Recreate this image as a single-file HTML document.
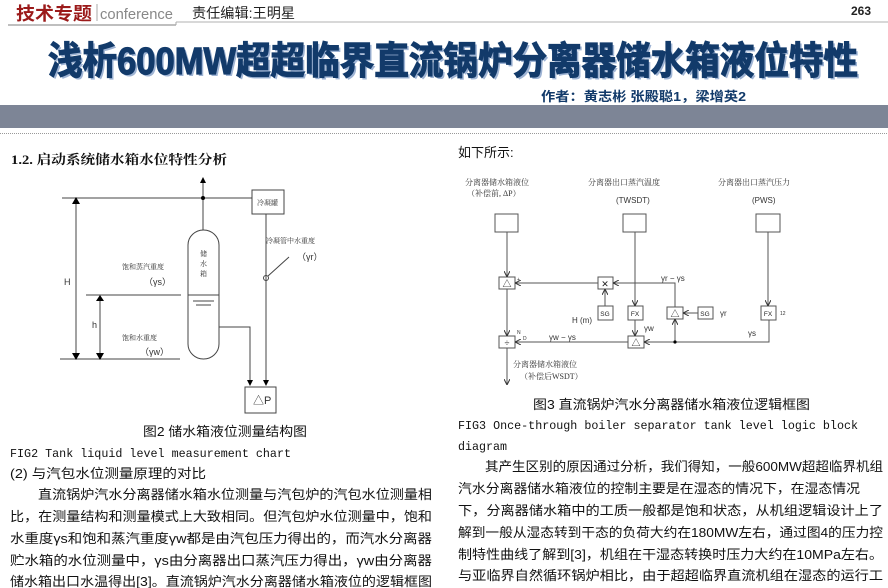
<!DOCTYPE html>
<html><head><meta charset="utf-8">
<style>
html,body{margin:0;padding:0;background:#fff;}
svg{display:block}
.c{font-family:"Liberation Serif","Noto Serif CJK SC","Noto Sans CJK SC",serif;}
.s{font-family:"Liberation Sans","Noto Sans CJK SC",sans-serif;}
.m{font-family:"Liberation Mono","Noto Sans CJK SC",monospace;}
</style></head><body>
<svg width="888" height="588" viewBox="0 0 888 588" xmlns="http://www.w3.org/2000/svg">
<defs>
<marker id="a" markerWidth="6" markerHeight="6" refX="5" refY="3" orient="auto" markerUnits="userSpaceOnUse"><path d="M0,0 L6,3 L0,6 z" fill="#000"/></marker>
<marker id="b" markerWidth="6" markerHeight="6" refX="5" refY="3" orient="auto" markerUnits="userSpaceOnUse"><path d="M0,0 L6,3 L0,6" fill="none" stroke="#333" stroke-width="1"/></marker>
</defs>
<!-- header -->
<text x="16" y="20" class="s" font-size="18" font-weight="bold" fill="#9b1a1a" textLength="76" lengthAdjust="spacingAndGlyphs">技术专题</text>
<line x1="97" y1="4" x2="97" y2="21" stroke="#aaa"/>
<text x="100" y="19" class="s" font-size="15" fill="#888" textLength="73" lengthAdjust="spacingAndGlyphs">conference</text>
<text x="192" y="18" class="s" font-size="14" fill="#222" textLength="103" lengthAdjust="spacingAndGlyphs">责任编辑:王明星</text>
<text x="851" y="15" class="s" font-size="12" font-weight="bold" fill="#222">263</text>
<line x1="8" y1="25" x2="176" y2="25" stroke="#aaa" stroke-width="1.5"/>
<line x1="176" y1="22" x2="888" y2="22" stroke="#ccc" stroke-width="1.5"/>
<line x1="176" y1="22" x2="176" y2="25" stroke="#aaa"/>
<!-- title -->
<text x="50" y="76" class="s" font-size="38" font-weight="bold" fill="#9fb4d4" textLength="810" lengthAdjust="spacingAndGlyphs">浅析600MW超超临界直流锅炉分离器储水箱液位特性</text>
<text x="48" y="74" class="s" font-size="38" font-weight="bold" fill="#123a6a" stroke="#123a6a" stroke-width="1.2" textLength="810" lengthAdjust="spacingAndGlyphs">浅析600MW超超临界直流锅炉分离器储水箱液位特性</text>
<text x="541" y="101" class="s" font-size="13" font-weight="bold" fill="#123a6a" textLength="205" lengthAdjust="spacingAndGlyphs">作者：黄志彬 张殿聪1，梁增英2</text>
<rect x="0" y="105" width="888" height="23" fill="#7d8596"/>
<line x1="0" y1="133.5" x2="888" y2="133.5" stroke="#999" stroke-dasharray="1,1"/>
<!-- section heading -->
<text x="11" y="164" class="c" font-size="13" font-weight="bold" fill="#111" textLength="216" lengthAdjust="spacingAndGlyphs">1.2. 启动系统储水箱水位特性分析</text>
<text x="458" y="157" class="s" font-size="13" fill="#111">如下所示:</text>

<!-- left diagram -->
<g stroke="#444" stroke-width="1" fill="none">
<line x1="62" y1="198" x2="252" y2="198"/>
<rect x="252" y="190" width="32" height="24"/>
<line x1="203" y1="230" x2="203" y2="178" marker-end="url(#a)"/>
<path d="M188,245 A15.5,15 0 0 1 219,245 L219,344 A15.5,15 0 0 1 188,344 Z"/>
<line x1="86" y1="295" x2="181" y2="295"/>
<line x1="188" y1="295" x2="219" y2="295"/>
<line x1="193" y1="301" x2="214" y2="301"/>
<line x1="196" y1="305" x2="211" y2="305"/>
<line x1="60" y1="359" x2="180" y2="359"/>
<line x1="76" y1="204" x2="76" y2="353"/>
<line x1="100" y1="300" x2="100" y2="353"/>
<path d="M219,327 L250,327 L250,385" marker-end="url(#a)"/>
<line x1="266" y1="214" x2="266" y2="385" marker-end="url(#a)"/>
<circle cx="266" cy="278" r="2.5"/>
<line x1="268" y1="276" x2="289" y2="257"/>
<rect x="245" y="387" width="31" height="26"/>
</g>
<circle cx="203" cy="198" r="2" fill="#000"/>
<path d="M72,204 L80,204 L76,197 Z M72,353 L80,353 L76,360 Z M96,301 L104,301 L100,295 Z M96,353 L104,353 L100,360 Z" fill="#000"/>
<g class="c" font-size="7" fill="#333">
<text x="257" y="205">冷凝罐</text>
<text x="200" y="256">储</text><text x="200" y="266">水</text><text x="200" y="276">箱</text>
<text x="122" y="269">饱和蒸汽重度</text>
<text x="122" y="340">饱和水重度</text>
<text x="266" y="243">冷凝管中水重度</text>
</g>
<g class="s" font-size="9" fill="#333">
<text x="144" y="285">（γs）</text>
<text x="140" y="355">（γw）</text>
<text x="297" y="260">（γr）</text>
<text x="64" y="285">H</text>
<text x="92" y="328">h</text>
<text x="253" y="404" font-size="11">△P</text>
</g>

<!-- right diagram -->
<g stroke="#555" stroke-width="1" fill="none">
<rect x="495" y="214" width="23" height="18"/>
<rect x="623" y="214" width="23" height="18"/>
<rect x="756" y="214" width="24" height="18"/>
<rect x="499" y="277" width="16" height="12"/>
<rect x="598" y="277" width="15" height="12"/>
<rect x="598" y="306" width="15" height="14"/>
<rect x="628" y="306" width="15" height="14"/>
<rect x="667" y="307" width="16" height="12"/>
<rect x="698" y="307" width="15" height="12"/>
<rect x="761" y="306" width="15" height="14"/>
<rect x="499" y="336" width="16" height="12"/>
<rect x="628" y="336" width="16" height="12"/>
<line x1="507" y1="232" x2="507" y2="276" marker-end="url(#b)"/>
<line x1="635" y1="232" x2="635" y2="305" marker-end="url(#b)"/>
<line x1="768" y1="232" x2="768" y2="305" marker-end="url(#b)"/>
<line x1="598" y1="283" x2="516" y2="283" marker-end="url(#b)"/>
<path d="M675,307 L675,283 L614,283" marker-end="url(#b)"/>
<line x1="605" y1="306" x2="605" y2="290" marker-end="url(#b)"/>
<line x1="698" y1="313" x2="684" y2="313" marker-end="url(#b)"/>
<line x1="635" y1="320" x2="635" y2="335" marker-end="url(#b)"/>
<path d="M769,320 L769,342 L645,342" marker-end="url(#b)"/>
<line x1="675" y1="342" x2="675" y2="320" marker-end="url(#b)"/>
<line x1="628" y1="342" x2="516" y2="342" marker-end="url(#b)"/>
<line x1="507" y1="289" x2="507" y2="335" marker-end="url(#b)"/>
<line x1="507" y1="348" x2="507" y2="384" marker-end="url(#b)"/>
<line x1="596" y1="380" x2="1" y2="380" stroke="none"/>
</g>
<circle cx="675" cy="342" r="1.6" fill="#000"/>
<g class="s" font-size="9" fill="#222" text-anchor="middle">
<text x="507" y="287">△</text><text x="605" y="287">✕</text><text x="675" y="317">△</text>
<text x="636" y="346">△</text><text x="507" y="346">÷</text>
</g>
<g class="s" font-size="6.5" fill="#222" text-anchor="middle">
<text x="605" y="316">SG</text><text x="635" y="316">FX</text><text x="705" y="316">SG</text><text x="768" y="316">FX</text>
</g>
<g class="c" font-size="8" fill="#333">
<text x="465" y="185">分离器储水箱液位</text>
<text x="467" y="196">（补偿前, ΔP）</text>
<text x="588" y="185">分离器出口蒸汽温度</text>
<text x="718" y="185">分离器出口蒸汽压力</text>
<text x="513" y="367">分离器储水箱液位</text>
<text x="520" y="379">（补偿后WSDT）</text>
</g>
<g class="s" font-size="8" fill="#333">
<text x="616" y="203">(TWSDT)</text>
<text x="752" y="203">(PWS)</text>
<text x="661" y="281">γr − γs</text>
<text x="720" y="316">γr</text>
<text x="572" y="323">H (m)</text>
<text x="644" y="331">γw</text>
<text x="748" y="336">γs</text>
<text x="549" y="340">γw − γs</text>
<text x="517" y="281" font-size="5">+</text>
<text x="517" y="334" font-size="5">N</text>
<text x="523" y="340" font-size="5">D</text>
<text x="780" y="315" font-size="5">12</text>
</g>

<!-- captions & body -->
<g class="s" font-size="13" fill="#111">
<text x="143" y="436" textLength="164" lengthAdjust="spacingAndGlyphs">图2 储水箱液位测量结构图</text>
<text x="533" y="409" textLength="277" lengthAdjust="spacingAndGlyphs">图3 直流锅炉汽水分离器储水箱液位逻辑框图</text>
<text x="10" y="478" textLength="196" lengthAdjust="spacingAndGlyphs">(2) 与汽包水位测量原理的对比</text>
<text x="38" y="499" textLength="394" lengthAdjust="spacingAndGlyphs">直流锅炉汽水分离器储水箱水位测量与汽包炉的汽包水位测量相</text>
<text x="10" y="521" textLength="422" lengthAdjust="spacingAndGlyphs">比，在测量结构和测量模式上大致相同。但汽包炉水位测量中，饱和</text>
<text x="10" y="543" textLength="422" lengthAdjust="spacingAndGlyphs">水重度γs和饱和蒸汽重度γw都是由汽包压力得出的，而汽水分离器</text>
<text x="10" y="565" textLength="422" lengthAdjust="spacingAndGlyphs">贮水箱的水位测量中，γs由分离器出口蒸汽压力得出，γw由分离器</text>
<text x="10" y="586" textLength="422" lengthAdjust="spacingAndGlyphs">储水箱出口水温得出[3]。直流锅炉汽水分离器储水箱液位的逻辑框图</text>
<text x="485" y="471" textLength="398" lengthAdjust="spacingAndGlyphs">其产生区别的原因通过分析，我们得知，一般600MW超超临界机组</text>
<text x="458" y="493" textLength="402" lengthAdjust="spacingAndGlyphs">汽水分离器储水箱液位的控制主要是在湿态的情况下，在湿态情况</text>
<text x="458" y="515" textLength="425" lengthAdjust="spacingAndGlyphs">下，分离器储水箱中的工质一般都是饱和状态，从机组逻辑设计上了</text>
<text x="458" y="537" textLength="425" lengthAdjust="spacingAndGlyphs">解到一般从湿态转到干态的负荷大约在180MW左右，通过图4的压力控</text>
<text x="458" y="559" textLength="425" lengthAdjust="spacingAndGlyphs">制特性曲线了解到[3]，机组在干湿态转换时压力大约在10MPa左右。</text>
<text x="458" y="580" textLength="425" lengthAdjust="spacingAndGlyphs">与亚临界自然循环锅炉相比，由于超超临界直流机组在湿态的运行工</text>
</g>
<g class="m" font-size="12" fill="#111">
<text x="10" y="457" textLength="281" lengthAdjust="spacingAndGlyphs">FIG2 Tank liquid level measurement chart</text>
<text x="458" y="429" textLength="400" lengthAdjust="spacingAndGlyphs">FIG3 Once-through boiler separator tank level logic block</text>
<text x="458" y="450" textLength="49" lengthAdjust="spacingAndGlyphs">diagram</text>
</g>
</svg>
</body></html>
